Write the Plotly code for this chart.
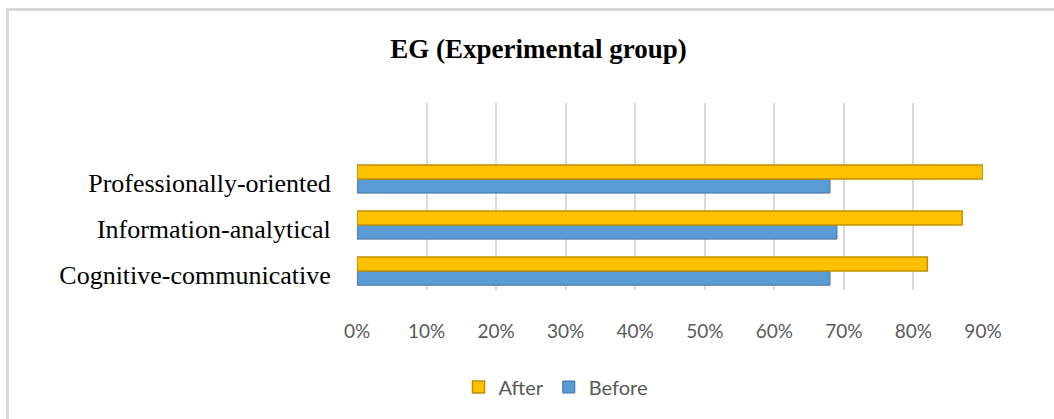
import plotly.graph_objects as go

categories = ["Cognitive-communicative", "Information-analytical", "Professionally-oriented"]
before = [0.68, 0.69, 0.68]
after = [0.82, 0.87, 0.90]
x_ticks = [0, 0.1, 0.2, 0.3, 0.4, 0.5, 0.6, 0.7, 0.8, 0.9]
x_tick_labels = ["0%", "10%", "20%", "30%", "40%", "50%", "60%", "70%", "80%", "90%"]

fig = go.Figure()
fig.add_trace(go.Bar(
    y=categories, x=before, orientation="h", name="Before",
    marker=dict(color="#5B9BD5", line=dict(color="#41719C", width=1)),
    legendrank=2,
))
fig.add_trace(go.Bar(
    y=categories, x=after, orientation="h", name="After",
    marker=dict(color="#FFC000", line=dict(color="#BF9000", width=1.5)),
    legendrank=1,
))

PL, PR, PT, PB = 357, 983, 103, 290
W, H = 1054, 419
pw, ph = PR - PL, PB - PT

fig.update_layout(
    width=W, height=H,
    barmode="group", bargap=0.39, bargroupgap=0,
    paper_bgcolor="white", plot_bgcolor="white",
    margin=dict(l=PL, r=W - PR, t=PT, b=H - PB),
    title=dict(text="<b>EG (Experimental group)</b>", x=0.511, xanchor="center",
               y=0.885, yanchor="middle",
               font=dict(family="Liberation Serif", size=27, color="black")),
    legend=dict(orientation="h", x=(556 - PL) / pw, xanchor="center",
                y=(PB - 387) / ph, yanchor="middle",
                font=dict(family="Lato", size=20, color="#595959"),
                itemwidth=30, tracegroupgap=0),
    showlegend=True,
)
fig.update_xaxes(
    range=[0, 0.9], tickvals=x_ticks, ticktext=x_tick_labels,
    showgrid=True, gridcolor="#D9D9D9", gridwidth=2,
    zeroline=False, showline=False,
    ticks="outside", ticklen=24, tickcolor="rgba(0,0,0,0)",
    tickfont=dict(family="Lato", size=19, color="#595959"),
)
fig.update_yaxes(
    range=[-0.41, 3.65], showgrid=False, zeroline=False, showline=False,
    ticks="outside", ticklen=20, tickcolor="rgba(0,0,0,0)",
    ticklabelshift=4,
    tickfont=dict(family="Liberation Serif", size=26, color="black"),
)
fig.add_shape(type="rect", xref="paper", yref="paper",
              x0=(7.5 - PL) / pw, x1=(1070 - PL) / pw,
              y0=(PB - 440) / ph, y1=(PB - 9.5) / ph,
              line=dict(color="#D9D9D9", width=3), fillcolor="rgba(0,0,0,0)", layer="below")

fig.write_html("out.html")
